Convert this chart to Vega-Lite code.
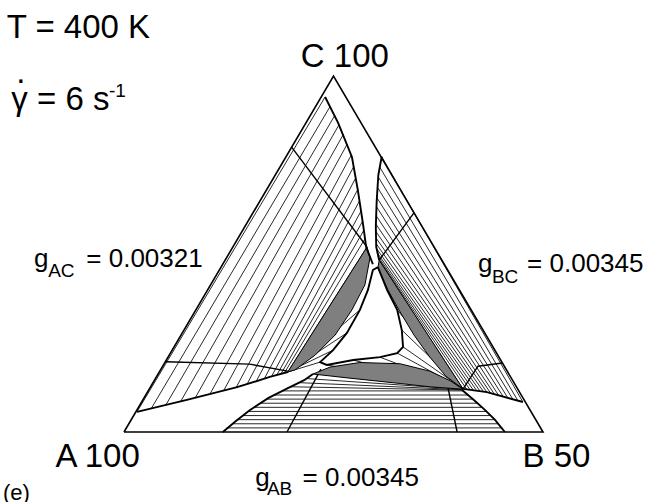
{
  "$schema": "https://vega.github.io/schema/vega-lite/v6.json",
  "width": 653,
  "height": 502,
  "padding": 0,
  "autosize": {"type": "none"},
  "background": "white",
  "config": {"view": {"stroke": null}, "text": {"font": "Liberation Sans"}},
  "datasets": {
    "ties": [
      {"g":"L1","o":0,"x":3.1,"y":4.9},{"g":"L1","o":1,"x":48.0,"y":81.5},
      {"g":"L2","o":0,"x":6.5,"y":5.7},{"g":"L2","o":1,"x":49.2,"y":79.2},
      {"g":"L3","o":0,"x":10.0,"y":6.6},{"g":"L3","o":1,"x":50.3,"y":77.0},
      {"g":"L4","o":0,"x":13.5,"y":7.4},{"g":"L4","o":1,"x":51.3,"y":74.7},
      {"g":"L5","o":0,"x":17.0,"y":8.3},{"g":"L5","o":1,"x":52.3,"y":72.3},
      {"g":"L6","o":0,"x":20.5,"y":9.2},{"g":"L6","o":1,"x":53.2,"y":69.9},
      {"g":"L7","o":0,"x":23.8,"y":10.1},{"g":"L7","o":1,"x":54.2,"y":67.3},
      {"g":"L8","o":0,"x":26.8,"y":10.9},{"g":"L8","o":1,"x":54.8,"y":64.5},
      {"g":"L9","o":0,"x":29.4,"y":11.7},{"g":"L9","o":1,"x":55.3,"y":61.8},
      {"g":"L10","o":0,"x":31.6,"y":12.4},{"g":"L10","o":1,"x":55.8,"y":59.0},
      {"g":"L11","o":0,"x":33.5,"y":13.0},{"g":"L11","o":1,"x":56.2,"y":56.2},
      {"g":"L12","o":0,"x":35.2,"y":13.5},{"g":"L12","o":1,"x":56.5,"y":53.6},
      {"g":"L13","o":0,"x":36.5,"y":13.9},{"g":"L13","o":1,"x":56.9,"y":51.2},
      {"g":"L14","o":0,"x":37.5,"y":14.2},{"g":"L14","o":1,"x":57.2,"y":49.0},
      {"g":"L15","o":0,"x":38.3,"y":14.4},{"g":"L15","o":1,"x":57.5,"y":47.0},
      {"g":"L16","o":0,"x":39.1,"y":14.6},{"g":"L16","o":1,"x":58.0,"y":45.0},
      {"g":"R1","o":0,"x":61.5,"y":67.0},{"g":"R1","o":1,"x":95.2,"y":7.3},
      {"g":"R2","o":0,"x":61.0,"y":64.5},{"g":"R2","o":1,"x":94.0,"y":7.63},
      {"g":"R3","o":0,"x":60.7,"y":62.0},{"g":"R3","o":1,"x":92.8,"y":7.97},
      {"g":"R4","o":0,"x":60.5,"y":59.5},{"g":"R4","o":1,"x":91.6,"y":8.3},
      {"g":"R5","o":0,"x":60.35,"y":57.0},{"g":"R5","o":1,"x":90.5,"y":8.61},
      {"g":"R6","o":0,"x":60.25,"y":54.8},{"g":"R6","o":1,"x":89.4,"y":8.92},
      {"g":"R7","o":0,"x":60.2,"y":52.6},{"g":"R7","o":1,"x":88.4,"y":9.2},
      {"g":"R8","o":0,"x":60.1,"y":50.6},{"g":"R8","o":1,"x":87.5,"y":9.45},
      {"g":"R9","o":0,"x":60.1,"y":48.8},{"g":"R9","o":1,"x":86.6,"y":9.7},
      {"g":"R10","o":0,"x":60.15,"y":47.2},{"g":"R10","o":1,"x":85.8,"y":9.81},
      {"g":"R11","o":0,"x":60.2,"y":45.8},{"g":"R11","o":1,"x":85.0,"y":9.92},
      {"g":"R12","o":0,"x":60.3,"y":44.6},{"g":"R12","o":1,"x":84.2,"y":10.04},
      {"g":"R13","o":0,"x":60.45,"y":43.6},{"g":"R13","o":1,"x":83.4,"y":10.15},
      {"g":"R14","o":0,"x":60.6,"y":42.8},{"g":"R14","o":1,"x":82.6,"y":10.26},
      {"g":"R15","o":0,"x":60.75,"y":42.2},{"g":"R15","o":1,"x":81.8,"y":10.37},
      {"g":"R16","o":0,"x":60.9,"y":41.8},{"g":"R16","o":1,"x":80.9,"y":10.5},
      {"g":"H1","o":0,"x":24.5,"y":1.0},{"g":"H1","o":1,"x":90.3,"y":1.0},
      {"g":"H2","o":0,"x":25.8,"y":2.0},{"g":"H2","o":1,"x":89.4,"y":2.0},
      {"g":"H3","o":0,"x":27.1,"y":3.0},{"g":"H3","o":1,"x":88.5,"y":3.0},
      {"g":"H4","o":0,"x":28.4,"y":4.0},{"g":"H4","o":1,"x":87.5,"y":4.0},
      {"g":"H5","o":0,"x":29.6,"y":5.0},{"g":"H5","o":1,"x":86.5,"y":5.0},
      {"g":"H6","o":0,"x":31.0,"y":6.0},{"g":"H6","o":1,"x":85.5,"y":6.0},
      {"g":"H7","o":0,"x":32.6,"y":7.0},{"g":"H7","o":1,"x":84.4,"y":7.0},
      {"g":"H8","o":0,"x":34.1,"y":8.0},{"g":"H8","o":1,"x":83.3,"y":8.0},
      {"g":"H9","o":0,"x":35.9,"y":9.0},{"g":"H9","o":1,"x":82.1,"y":9.0},
      {"g":"H10","o":0,"x":37.8,"y":10.0},{"g":"H10","o":1,"x":80.9,"y":10.0},
      {"g":"H11","o":0,"x":39.8,"y":11.0},{"g":"H11","o":1,"x":80.8,"y":10.2},
      {"g":"H12","o":0,"x":41.8,"y":12.0},{"g":"H12","o":1,"x":80.8,"y":10.3},
      {"g":"H13","o":0,"x":43.6,"y":13.0},{"g":"H13","o":1,"x":80.8,"y":10.4},
      {"g":"FL1","o":0,"x":39.1,"y":14.6},{"g":"FL1","o":1,"x":46.8,"y":17.0},
      {"g":"FL2","o":0,"x":39.1,"y":14.6},{"g":"FL2","o":1,"x":49.9,"y":19.9},
      {"g":"FL3","o":0,"x":39.1,"y":14.6},{"g":"FL3","o":1,"x":53.2,"y":24.1},
      {"g":"FL4","o":0,"x":39.1,"y":14.6},{"g":"FL4","o":1,"x":56.3,"y":29.7},
      {"g":"FR1","o":0,"x":80.9,"y":10.5},{"g":"FR1","o":1,"x":66.3,"y":24.8},
      {"g":"FR2","o":0,"x":80.9,"y":10.5},{"g":"FR2","o":1,"x":66.6,"y":20.7},
      {"g":"FR3","o":0,"x":80.9,"y":10.5},{"g":"FR3","o":1,"x":65.2,"y":19.2},
      {"g":"FR4","o":0,"x":80.9,"y":10.5},{"g":"FR4","o":1,"x":65.2,"y":29.7},
      {"g":"FB1","o":0,"x":80.9,"y":10.5},{"g":"FB1","o":1,"x":61.1,"y":18.2},
      {"g":"FB2","o":0,"x":80.9,"y":10.5},{"g":"FB2","o":1,"x":54.7,"y":17.5},
      {"g":"FB3","o":0,"x":80.9,"y":10.5},{"g":"FB3","o":1,"x":48.4,"y":16.3}
    ],
    "extra": [
      {"g":"E1","o":0,"x":40.0,"y":69.3},{"g":"E1","o":1,"x":58.0,"y":45.0},
      {"g":"E2","o":0,"x":69.2,"y":53.3},{"g":"E2","o":1,"x":60.9,"y":41.8},
      {"g":"E3","o":0,"x":9.9,"y":17.1},{"g":"E3","o":1,"x":30.0,"y":16.5},{"g":"E3","o":2,"x":39.1,"y":14.8},
      {"g":"E4","o":0,"x":90.3,"y":16.8},{"g":"E4","o":1,"x":84.5,"y":16.0},{"g":"E4","o":2,"x":81.0,"y":10.6},
      {"g":"E5","o":0,"x":38.9,"y":0},{"g":"E5","o":1,"x":47.0,"y":15.3},
      {"g":"E6","o":0,"x":79.5,"y":0},{"g":"E6","o":1,"x":77.3,"y":10.9}
    ],
    "shade": [
      {"g":"SL","o":0,"x":39.1,"y":14.6},{"g":"SL","o":1,"x":58.0,"y":45.0},{"g":"SL","o":2,"x":58.7,"y":42.3},{"g":"SL","o":3,"x":57.5,"y":35.8},{"g":"SL","o":4,"x":54.4,"y":29.7},{"g":"SL","o":5,"x":50.4,"y":23.6},{"g":"SL","o":6,"x":45.6,"y":18.7},{"g":"SL","o":7,"x":40.8,"y":15.1},{"g":"SL","o":8,"x":39.1,"y":14.6},
      {"g":"SR","o":0,"x":60.9,"y":41.8},{"g":"SR","o":1,"x":80.9,"y":10.5},{"g":"SR","o":2,"x":76.8,"y":13.6},{"g":"SR","o":3,"x":73.0,"y":18.2},{"g":"SR","o":4,"x":69.2,"y":23.6},{"g":"SR","o":5,"x":65.9,"y":29.2},{"g":"SR","o":6,"x":63.0,"y":34.5},{"g":"SR","o":7,"x":60.6,"y":39.9},{"g":"SR","o":8,"x":60.9,"y":41.8},
      {"g":"SB","o":0,"x":45.1,"y":14.1},{"g":"SB","o":1,"x":49.2,"y":15.8},{"g":"SB","o":2,"x":56.3,"y":16.9},{"g":"SB","o":3,"x":65.9,"y":16.6},{"g":"SB","o":4,"x":73.0,"y":14.8},{"g":"SB","o":5,"x":77.8,"y":12.5},{"g":"SB","o":6,"x":80.9,"y":10.4},{"g":"SB","o":7,"x":73.0,"y":11.0},{"g":"SB","o":8,"x":65.9,"y":11.8},{"g":"SB","o":9,"x":53.9,"y":13.1},{"g":"SB","o":10,"x":45.1,"y":14.1}
    ],
    "thick": [
      {"g":"K1","o":0,"x":3.1,"y":4.9},{"g":"K1","o":1,"x":15.0,"y":7.8},{"g":"K1","o":2,"x":27.0,"y":10.9},{"g":"K1","o":3,"x":34.8,"y":13.4},{"g":"K1","o":4,"x":39.1,"y":14.6},
      {"g":"K2","o":0,"x":48.0,"y":81.5},{"g":"K2","o":1,"x":51.1,"y":75.2},{"g":"K2","o":2,"x":54.4,"y":66.9},{"g":"K2","o":3,"x":55.8,"y":58.9},{"g":"K2","o":4,"x":57.0,"y":50.9},{"g":"K2","o":5,"x":57.8,"y":45.0},{"g":"K2","o":6,"x":59.4,"y":40.8},
      {"g":"K3","o":0,"x":61.5,"y":67.0},{"g":"K3","o":1,"x":60.7,"y":62.5},{"g":"K3","o":2,"x":60.3,"y":56.0},{"g":"K3","o":3,"x":60.1,"y":50.0},{"g":"K3","o":4,"x":60.2,"y":45.0},{"g":"K3","o":5,"x":60.9,"y":41.8},
      {"g":"K4","o":0,"x":23.6,"y":0},{"g":"K4","o":1,"x":26.5,"y":2.5},{"g":"K4","o":2,"x":30.0,"y":5.3},{"g":"K4","o":3,"x":34.5,"y":8.3},{"g":"K4","o":4,"x":39.0,"y":10.6},{"g":"K4","o":5,"x":43.0,"y":12.6},{"g":"K4","o":6,"x":45.1,"y":14.1},
      {"g":"K5","o":0,"x":90.9,"y":0},{"g":"K5","o":1,"x":88.5,"y":3.0},{"g":"K5","o":2,"x":86.0,"y":5.5},{"g":"K5","o":3,"x":83.5,"y":7.8},{"g":"K5","o":4,"x":80.7,"y":10.2},
      {"g":"K6","o":0,"x":80.9,"y":10.5},{"g":"K6","o":1,"x":86.6,"y":9.7},{"g":"K6","o":2,"x":95.2,"y":7.3},
      {"g":"K7","o":0,"x":60.6,"y":40.1},{"g":"K7","o":1,"x":62.8,"y":34.5},{"g":"K7","o":2,"x":65.2,"y":29.7},{"g":"K7","o":3,"x":66.3,"y":24.8},{"g":"K7","o":4,"x":66.6,"y":20.7},{"g":"K7","o":5,"x":65.2,"y":19.2},{"g":"K7","o":6,"x":61.1,"y":18.2},{"g":"K7","o":7,"x":54.7,"y":17.5},{"g":"K7","o":8,"x":48.4,"y":16.3},{"g":"K7","o":9,"x":46.8,"y":17.0},{"g":"K7","o":10,"x":49.9,"y":19.9},{"g":"K7","o":11,"x":53.2,"y":24.1},{"g":"K7","o":12,"x":56.3,"y":29.7},{"g":"K7","o":13,"x":58.2,"y":34.5},{"g":"K7","o":14,"x":59.4,"y":39.4},{"g":"K7","o":15,"x":60.6,"y":40.1}
    ],
    "edge": [
      {"g":"T","o":0,"x":0,"y":0},{"g":"T","o":1,"x":100,"y":0},{"g":"T","o":2,"x":50,"y":86.6},{"g":"T","o":3,"x":0,"y":0}
    ],
    "labels": [
      {"t":"C 100","x":52.7,"y":88.8,"r":"bigc"},
      {"t":"A 100","x":-6.3,"y":-8.5,"r":"bigc"},
      {"t":"B 50","x":103.2,"y":-8.5,"r":"bigc"},
      {"t":"T = 400 K","x":-28.0,"y":95.8,"r":"bigl"},
      {"t":"γ = 6 s","x":-26.9,"y":78.3,"r":"bigl"},
      {"t":".","x":-24.6,"y":85.0,"r":"bigc"},
      {"t":"-1","x":-3.6,"y":81.4,"r":"sup"},
      {"t":"g","x":31.3,"y":-13.1,"r":"mid"},
      {"t":"= 0.00345","x":42.6,"y":-13.1,"r":"mid"},
      {"t":"g","x":-21.5,"y":40.1,"r":"mid"},
      {"t":"= 0.00321","x":-9.0,"y":40.1,"r":"mid"},
      {"t":"g","x":84.5,"y":38.9,"r":"mid"},
      {"t":"= 0.00345","x":96.2,"y":38.9,"r":"mid"},
      {"t":"AB","x":34.1,"y":-15.3,"r":"sub"},
      {"t":"AC","x":-18.1,"y":37.7,"r":"sub"},
      {"t":"BC","x":87.8,"y":36.2,"r":"sub"},
      {"t":"(e)","x":-28.9,"y":-16.5,"r":"e"}
    ]
  },
  "encoding": {
    "x": {"field": "x", "type": "quantitative", "scale": {"domain": [-29.594, 126.253], "nice": false, "zero": false}, "axis": null},
    "y": {"field": "y", "type": "quantitative", "scale": {"domain": [-17.027, 105.084], "nice": false, "zero": false}, "axis": null}
  },
  "layer": [
    {
      "data": {"name": "ties"},
      "mark": {"type": "line", "color": "#111", "strokeWidth": 0.9},
      "encoding": {"detail": {"field": "g"}, "order": {"field": "o", "type": "quantitative"}}
    },
    {
      "data": {"name": "extra"},
      "mark": {"type": "line", "color": "#000", "strokeWidth": 1.4},
      "encoding": {"detail": {"field": "g"}, "order": {"field": "o", "type": "quantitative"}}
    },
    {
      "data": {"name": "shade"},
      "mark": {"type": "line", "fill": "#7f7f7f", "stroke": "#000", "strokeWidth": 1},
      "encoding": {"detail": {"field": "g"}, "order": {"field": "o", "type": "quantitative"}}
    },
    {
      "data": {"name": "thick"},
      "mark": {"type": "line", "color": "#000", "strokeWidth": 1.9},
      "encoding": {"detail": {"field": "g"}, "order": {"field": "o", "type": "quantitative"}}
    },
    {
      "data": {"name": "edge"},
      "mark": {"type": "line", "color": "#000", "strokeWidth": 1.6},
      "encoding": {"detail": {"field": "g"}, "order": {"field": "o", "type": "quantitative"}}
    },
    {
      "data": {"name": "labels"},
      "transform": [{"filter": "datum.r === 'bigc'"}],
      "mark": {"type": "text", "fontSize": 33, "align": "center", "baseline": "alphabetic", "color": "#000"},
      "encoding": {"text": {"field": "t"}}
    },
    {
      "data": {"name": "labels"},
      "transform": [{"filter": "datum.r === 'bigl'"}],
      "mark": {"type": "text", "fontSize": 33, "align": "left", "baseline": "alphabetic", "color": "#000"},
      "encoding": {"text": {"field": "t"}}
    },
    {
      "data": {"name": "labels"},
      "transform": [{"filter": "datum.r === 'mid'"}],
      "mark": {"type": "text", "fontSize": 26, "align": "left", "baseline": "alphabetic", "color": "#000"},
      "encoding": {"text": {"field": "t"}}
    },
    {
      "data": {"name": "labels"},
      "transform": [{"filter": "datum.r === 'sub'"}],
      "mark": {"type": "text", "fontSize": 19, "align": "left", "baseline": "alphabetic", "color": "#000"},
      "encoding": {"text": {"field": "t"}}
    },
    {
      "data": {"name": "labels"},
      "transform": [{"filter": "datum.r === 'sup'"}],
      "mark": {"type": "text", "fontSize": 19, "align": "left", "baseline": "alphabetic", "color": "#000"},
      "encoding": {"text": {"field": "t"}}
    },
    {
      "data": {"name": "labels"},
      "transform": [{"filter": "datum.r === 'e'"}],
      "mark": {"type": "text", "fontSize": 22, "align": "left", "baseline": "alphabetic", "color": "#000"},
      "encoding": {"text": {"field": "t"}}
    }
  ]
}
